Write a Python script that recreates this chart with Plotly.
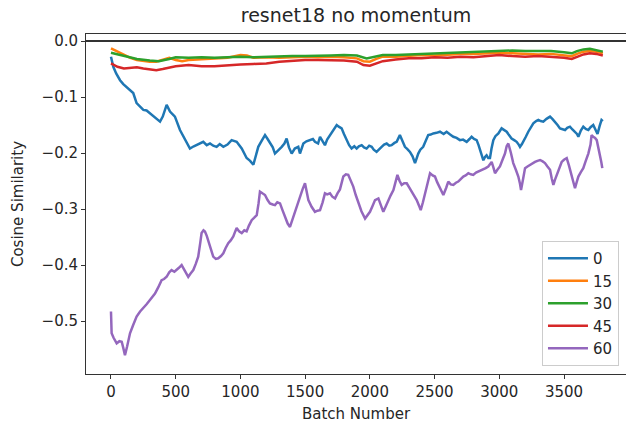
import plotly.graph_objects as go

# ---------------- data ----------------
series_names = ["0", "15", "30", "45", "60"]

batch_0 = [0, 18, 40, 70, 95, 121, 150, 172, 198, 225, 250, 275, 301, 340, 379, 400, 430, 456, 494, 533,
           572, 610, 640, 662, 690, 713, 740, 765, 790, 816, 840, 868, 900, 932, 971, 1010, 1048, 1075, 1100, 1120,
           1138, 1165, 1190, 1210, 1228, 1250, 1267, 1290, 1319, 1340, 1357, 1375, 1396, 1420, 1447, 1460, 1486, 1510, 1538, 1560,
           1576, 1600, 1615, 1635, 1653, 1670, 1692, 1720, 1744, 1760, 1782, 1800, 1820, 1840, 1859, 1880, 1898, 1915, 1937, 1955,
           1975, 1995, 2014, 2030, 2052, 2070, 2091, 2110, 2130, 2150, 2168, 2190, 2207, 2232, 2250, 2271, 2290, 2310, 2330, 2349,
           2374, 2390, 2412, 2430, 2451, 2470, 2490, 2515, 2542, 2570, 2593, 2620, 2645, 2670, 2696, 2720, 2748, 2770, 2786, 2805,
           2825, 2840, 2851, 2865, 2877, 2890, 2902, 2915, 2928, 2940, 2954, 2970, 2993, 3018, 3040, 3057, 3075, 3095, 3115, 3134,
           3150, 3160, 3175, 3186, 3205, 3224, 3245, 3263, 3285, 3302, 3320, 3340, 3365, 3392, 3410, 3430, 3450, 3469, 3490, 3508,
           3525, 3546, 3565, 3585, 3600, 3611, 3630, 3649, 3668, 3688, 3705, 3726, 3742, 3759, 3775, 3790, 3800]
values_0 = [-0.028, -0.046, -0.058, -0.070, -0.077, -0.082, -0.088, -0.093, -0.111, -0.117, -0.123, -0.124, -0.129, -0.138, -0.144, -0.135, -0.114, -0.126, -0.135, -0.159,
            -0.177, -0.192, -0.188, -0.186, -0.183, -0.180, -0.186, -0.183, -0.187, -0.189, -0.184, -0.189, -0.185, -0.177, -0.180, -0.192, -0.209, -0.214, -0.221, -0.205,
            -0.189, -0.178, -0.168, -0.175, -0.183, -0.190, -0.201, -0.196, -0.189, -0.183, -0.174, -0.190, -0.201, -0.192, -0.189, -0.201, -0.183, -0.179, -0.177, -0.175,
            -0.180, -0.183, -0.171, -0.178, -0.186, -0.176, -0.168, -0.158, -0.150, -0.153, -0.156, -0.166, -0.177, -0.186, -0.192, -0.188, -0.192, -0.188, -0.186, -0.190,
            -0.192, -0.187, -0.189, -0.194, -0.198, -0.193, -0.189, -0.185, -0.183, -0.187, -0.186, -0.182, -0.180, -0.168, -0.178, -0.189, -0.193, -0.198, -0.206, -0.218,
            -0.201, -0.194, -0.189, -0.178, -0.168, -0.167, -0.165, -0.164, -0.162, -0.166, -0.162, -0.167, -0.171, -0.173, -0.177, -0.176, -0.180, -0.175, -0.171, -0.175,
            -0.177, -0.186, -0.195, -0.205, -0.213, -0.207, -0.204, -0.209, -0.209, -0.192, -0.177, -0.170, -0.165, -0.156, -0.159, -0.162, -0.168, -0.174, -0.177, -0.180,
            -0.185, -0.189, -0.184, -0.180, -0.171, -0.162, -0.154, -0.147, -0.143, -0.141, -0.143, -0.144, -0.139, -0.135, -0.139, -0.144, -0.150, -0.156, -0.158, -0.159,
            -0.155, -0.153, -0.158, -0.162, -0.166, -0.171, -0.160, -0.153, -0.157, -0.159, -0.154, -0.150, -0.158, -0.166, -0.152, -0.141, -0.143]

batch_15 = [0, 50, 100, 150, 200, 250, 300, 350, 400, 450, 500, 550, 600, 700, 800, 900, 1000, 1050, 1100, 1200,
            1300, 1400, 1500, 1600, 1700, 1800, 1900, 1950, 2000, 2050, 2100, 2200, 2300, 2400, 2500, 2600, 2700, 2800, 2900, 3000,
            3100, 3200, 3300, 3400, 3500, 3560, 3600, 3650, 3700, 3750, 3800]
values_15 = [-0.013, -0.019, -0.025, -0.030, -0.034, -0.036, -0.037, -0.037, -0.033, -0.030, -0.034, -0.036, -0.034, -0.033, -0.032, -0.030, -0.025, -0.026, -0.030, -0.029,
             -0.030, -0.029, -0.028, -0.029, -0.028, -0.029, -0.031, -0.036, -0.037, -0.032, -0.028, -0.028, -0.027, -0.025, -0.026, -0.024, -0.023, -0.023, -0.022, -0.021,
             -0.022, -0.023, -0.024, -0.023, -0.025, -0.027, -0.023, -0.019, -0.018, -0.019, -0.022]

batch_30 = [0, 50, 100, 200, 300, 370, 450, 500, 600, 700, 800, 900, 1000, 1100, 1200, 1300, 1400, 1500, 1600, 1700,
            1800, 1900, 1975, 2050, 2100, 2200, 2300, 2400, 2500, 2600, 2700, 2800, 2900, 3000, 3100, 3200, 3300, 3400, 3500, 3560,
            3600, 3650, 3700, 3750, 3800]
values_30 = [-0.021, -0.024, -0.027, -0.032, -0.035, -0.036, -0.032, -0.029, -0.030, -0.029, -0.030, -0.029, -0.028, -0.029, -0.028, -0.028, -0.027, -0.027, -0.027, -0.026,
             -0.025, -0.026, -0.031, -0.027, -0.025, -0.025, -0.024, -0.023, -0.022, -0.021, -0.020, -0.020, -0.018, -0.017, -0.017, -0.018, -0.018, -0.018, -0.020, -0.022,
             -0.018, -0.015, -0.014, -0.016, -0.019]

batch_45 = [0, 50, 100, 150, 200, 250, 300, 350, 400, 450, 500, 600, 700, 800, 900, 1000, 1100, 1200, 1300, 1400,
            1500, 1600, 1700, 1800, 1900, 1950, 2000, 2050, 2100, 2200, 2300, 2400, 2500, 2600, 2700, 2800, 2900, 3000, 3100, 3200,
            3300, 3400, 3500, 3560, 3600, 3650, 3700, 3750, 3800]
values_45 = [-0.040, -0.046, -0.049, -0.048, -0.047, -0.049, -0.050, -0.052, -0.050, -0.047, -0.045, -0.043, -0.045, -0.045, -0.043, -0.042, -0.041, -0.040, -0.037, -0.035,
             -0.034, -0.034, -0.034, -0.035, -0.037, -0.043, -0.044, -0.040, -0.036, -0.033, -0.031, -0.031, -0.029, -0.030, -0.028, -0.029, -0.027, -0.025, -0.027, -0.028,
             -0.027, -0.028, -0.030, -0.032, -0.028, -0.024, -0.022, -0.023, -0.026]

batch_60 = [0, 5, 20, 44, 65, 83, 95, 108, 125, 147, 170, 198, 225, 250, 275, 301, 320, 340, 365, 391,
            410, 430, 450, 468, 490, 507, 525, 546, 570, 597, 615, 636, 655, 674, 690, 700, 715, 726, 740, 752,
            770, 790, 810, 829, 850, 868, 885, 906, 925, 945, 960, 971, 990, 1010, 1030, 1048, 1065, 1087, 1105, 1126,
            1140, 1151, 1170, 1190, 1210, 1228, 1250, 1267, 1285, 1306, 1325, 1344, 1365, 1383, 1400, 1422, 1440, 1460, 1480, 1499,
            1512, 1525, 1550, 1576, 1595, 1615, 1635, 1653, 1670, 1692, 1710, 1731, 1750, 1769, 1795, 1815, 1833, 1850, 1872, 1891,
            1911, 1935, 1963, 1980, 2001, 2020, 2040, 2066, 2085, 2104, 2125, 2143, 2160, 2182, 2200, 2213, 2230, 2246, 2265, 2285,
            2305, 2323, 2345, 2362, 2380, 2393, 2410, 2426, 2445, 2465, 2485, 2503, 2520, 2542, 2568, 2590, 2606, 2625, 2645, 2665,
            2683, 2700, 2722, 2740, 2761, 2780, 2799, 2820, 2838, 2858, 2877, 2895, 2915, 2941, 2955, 2967, 2985, 3005, 3025, 3044,
            3057, 3070, 3090, 3108, 3128, 3147, 3160, 3168, 3185, 3199, 3218, 3237, 3255, 3276, 3295, 3315, 3335, 3353, 3372, 3392,
            3405, 3418, 3430, 3443, 3462, 3482, 3500, 3521, 3538, 3554, 3570, 3585, 3598, 3611, 3630, 3649, 3668, 3688, 3705, 3713,
            3726, 3740, 3753, 3766, 3778, 3788, 3796]
values_60 = [-0.483, -0.522, -0.530, -0.540, -0.536, -0.537, -0.548, -0.561, -0.545, -0.522, -0.508, -0.492, -0.483, -0.477, -0.470, -0.4625, -0.456, -0.451, -0.440, -0.427,
             -0.425, -0.421, -0.413, -0.409, -0.412, -0.409, -0.405, -0.400, -0.410, -0.421, -0.415, -0.409, -0.398, -0.385, -0.360, -0.343, -0.338, -0.340, -0.348, -0.358,
             -0.372, -0.385, -0.389, -0.388, -0.384, -0.379, -0.370, -0.361, -0.356, -0.349, -0.340, -0.334, -0.340, -0.343, -0.338, -0.340, -0.330, -0.320, -0.316, -0.311,
             -0.290, -0.269, -0.272, -0.275, -0.284, -0.290, -0.292, -0.293, -0.288, -0.290, -0.302, -0.314, -0.326, -0.332, -0.320, -0.305, -0.290, -0.278, -0.265, -0.254,
             -0.268, -0.284, -0.296, -0.305, -0.303, -0.302, -0.288, -0.272, -0.274, -0.272, -0.278, -0.281, -0.272, -0.265, -0.242, -0.238, -0.239, -0.248, -0.260, -0.275,
             -0.290, -0.304, -0.317, -0.312, -0.305, -0.295, -0.284, -0.281, -0.292, -0.305, -0.294, -0.284, -0.276, -0.266, -0.250, -0.239, -0.250, -0.257, -0.254, -0.254,
             -0.262, -0.269, -0.277, -0.284, -0.294, -0.302, -0.288, -0.272, -0.252, -0.236, -0.240, -0.242, -0.252, -0.263, -0.275, -0.262, -0.251, -0.256, -0.257, -0.253,
             -0.251, -0.247, -0.242, -0.240, -0.236, -0.238, -0.239, -0.235, -0.233, -0.232, -0.230, -0.227, -0.224, -0.216, -0.226, -0.236, -0.230, -0.224, -0.212, -0.201,
             -0.188, -0.183, -0.200, -0.218, -0.230, -0.242, -0.255, -0.266, -0.245, -0.227, -0.224, -0.221, -0.219, -0.216, -0.214, -0.2125, -0.215, -0.218, -0.224, -0.230,
             -0.245, -0.257, -0.248, -0.239, -0.226, -0.216, -0.212, -0.209, -0.222, -0.236, -0.250, -0.263, -0.252, -0.242, -0.234, -0.227, -0.214, -0.201, -0.185, -0.168,
             -0.171, -0.173, -0.177, -0.190, -0.204, -0.216, -0.227]

x_tick_values = [0, 500, 1000, 1500, 2000, 2500, 3000, 3500]
y_tick_values = [0.0, -0.1, -0.2, -0.3, -0.4, -0.5]

title_text = "resnet18 no momentum"
x_label = "Batch Number"
y_label = "Cosine Similarity"

# ---------------- figure ----------------
colors = ["#1f77b4", "#ff7f0e", "#2ca02c", "#d62728", "#9467bd"]
xs = [batch_0, batch_15, batch_30, batch_45, batch_60]
ys = [values_0, values_15, values_30, values_45, values_60]

fig = go.Figure()
for name, x, y, c in zip(series_names, xs, ys, colors):
    fig.add_trace(go.Scatter(x=x, y=y, mode="lines", name=name,
                             line=dict(color=c, width=2.5)))

fig.add_hline(y=0, line=dict(color="#333333", width=2.2), layer="above")

font_family = "DejaVu Sans"
fig.update_layout(
    width=626, height=424,
    margin=dict(l=86, r=0, t=34, b=50, autoexpand=False),
    paper_bgcolor="white", plot_bgcolor="white",
    font=dict(family=font_family, color="#262626", size=15),
    title=dict(text=title_text, x=0.5, xref="paper", xanchor="center",
               y=1 - 15 / 424, yref="container", yanchor="middle",
               font=dict(size=19, color="#262626")),
    showlegend=True,
    legend=dict(x=0.987, y=0.0235, xanchor="right", yanchor="bottom",
                bgcolor="white", bordercolor="#cccccc", borderwidth=1,
                itemwidth=40,
                font=dict(size=15, color="#262626"), tracegroupgap=0),
)
fig.update_xaxes(
    range=[-193, 3979], showgrid=False, zeroline=False, automargin=False,
    showline=True, linecolor="#333333", linewidth=1, mirror=True,
    ticks="outside", ticklen=4, tickcolor="#333333",
    tickvals=x_tick_values, ticktext=[str(v) for v in x_tick_values],
    tickfont=dict(size=15),
    title=dict(text=x_label, font=dict(size=15), standoff=8),
)
fig.update_yaxes(
    range=[-0.5946, 0.0125], showgrid=False, zeroline=False, automargin=False,
    showline=True, linecolor="#333333", linewidth=1,
    ticks="outside", ticklen=4, tickcolor="#333333",
    tickvals=y_tick_values, tickformat=".1f",
    tickfont=dict(size=15),
    title=dict(text=y_label, font=dict(size=15), standoff=14),
)

fig.write_html("out.html", config={"displayModeBar": False},
               post_script="document.body.style.margin='0';")
